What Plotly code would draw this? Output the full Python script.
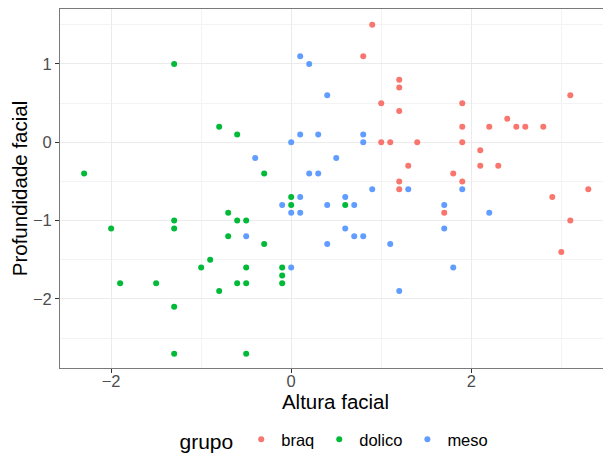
import plotly.graph_objects as go

# ---- data ----
braq_x = [0.9, 0.8, 1.2, 1.2, 3.1, 1.0, 1.9, 1.2, 2.4, 1.9, 2.2, 2.5, 2.6, 2.8, 1.0, 1.1,
          1.4, 1.9, 2.1, 1.3, 2.1, 2.3, 1.8, 1.2, 1.9, 1.2, 3.3, 2.9, 1.7, 3.1, 3.0]
braq_y = [1.5, 1.1, 0.8, 0.7, 0.6, 0.5, 0.5, 0.4, 0.3, 0.2, 0.2, 0.2, 0.2, 0.2, 0.0, 0.0,
          0.0, 0.0, -0.1, -0.3, -0.3, -0.3, -0.4, -0.5, -0.5, -0.6, -0.6, -0.7, -0.9, -1.0, -1.4]

dolico_x = [-1.3, -0.8, -0.6, -2.3, -0.3, 0.6, 0.0, 0.0, -0.7, -1.3, -0.6, -0.5, -2.0, -1.3, -0.7,
            -0.3, -0.9, -1.0, -0.5, -0.1, -0.1, -1.9, -1.5, -0.6, -0.5, -0.1, -0.8, -1.3, -1.3, -0.5]
dolico_y = [1.0, 0.2, 0.1, -0.4, -0.4, -0.8, -0.7, -0.8, -0.9, -1.0, -1.0, -1.0, -1.1, -1.1, -1.2,
            -1.3, -1.5, -1.6, -1.6, -1.6, -1.7, -1.8, -1.8, -1.8, -1.8, -1.8, -1.9, -2.1, -2.7, -2.7]

meso_x = [0.1, 0.2, 0.4, 0.1, 0.3, 0.8, 0.0, 0.8, -0.4, 0.5, 0.2, 0.3, 0.9, 1.3, 1.9, 0.6, 0.7,
          1.7, 2.2, 0.6, 1.7, 0.7, 0.8, 1.1, 1.8, 1.2, 0.1, -0.1, 0.4, 0.0, 0.1, -0.5, 0.4, 0.0]
meso_y = [1.1, 1.0, 0.6, 0.1, 0.1, 0.1, 0.0, 0.0, -0.2, -0.2, -0.4, -0.4, -0.6, -0.6, -0.6, -0.7, -0.8,
          -0.8, -0.9, -1.1, -1.1, -1.2, -1.2, -1.3, -1.6, -1.9, -0.7, -0.8, -0.8, -0.9, -0.9, -1.2, -1.3, -1.6]

groups = ["braq", "dolico", "meso"]
colors = ["#F8766D", "#00BA38", "#619CFF"]
xs = [braq_x, dolico_x, meso_x]
ys = [braq_y, dolico_y, meso_y]

FONT = "Liberation Sans, Arial, sans-serif"

fig = go.Figure()
for g, c, x, y in zip(groups, colors, xs, ys):
    fig.add_trace(go.Scatter(x=x, y=y, mode="markers", name=g,
                             marker=dict(color=c, size=6, line=dict(width=0))))

# page body adds an 8px offset; figure sized to the visible area
W, H = 603, 454
ml, mr, mt, mb = 52, 0, 1, 94
ph = H - mt - mb

def py2y(py):
    return (H - mb - py) / ph

fig.update_layout(
    width=W, height=H,
    margin=dict(l=ml, r=mr, t=mt, b=mb, pad=0, autoexpand=False),
    paper_bgcolor="white", plot_bgcolor="white",
    font=dict(family=FONT, color="black"),
    showlegend=True,
    legend=dict(orientation="h", x=0.5, xanchor="center", y=py2y(433), yanchor="middle",
                font=dict(size=16.5, color="black"),
                title=dict(text="grupo", side="left", font=dict(size=21, color="black")),
                itemsizing="trace"),
    xaxis=dict(range=[-2.568, 3.552], tick0=0, dtick=2, showgrid=True, gridcolor="#ebebeb",
               gridwidth=1, zeroline=False, showline=True, mirror=True, linecolor="#7a7a7a",
               linewidth=1, ticks="outside", ticklen=4, tickcolor="#333333", automargin=False,
               ticklabelstandoff=-6,
               tickfont=dict(size=16.5, color="#4d4d4d"),
               minor=dict(dtick=1, tick0=0, showgrid=True, gridcolor="#f3f3f3", gridwidth=1, ticks=""),
               title=dict(text="Altura facial", font=dict(size=20.5, color="black"), standoff=0)),
    yaxis=dict(range=[-2.882, 1.702], tick0=0, dtick=1, showgrid=True, gridcolor="#ebebeb",
               gridwidth=1, zeroline=False, showline=True, mirror=False, linecolor="#7a7a7a",
               linewidth=1, ticks="outside", ticklen=4, tickcolor="#333333", automargin=False,
               tickfont=dict(size=16.5, color="#4d4d4d"),
               minor=dict(dtick=0.5, tick0=0, showgrid=True, gridcolor="#f3f3f3", gridwidth=1, ticks=""),
               title=dict(text="Profundidade facial", font=dict(size=20.5, color="black"), standoff=6)),
)

fig.write_html("out.html")
